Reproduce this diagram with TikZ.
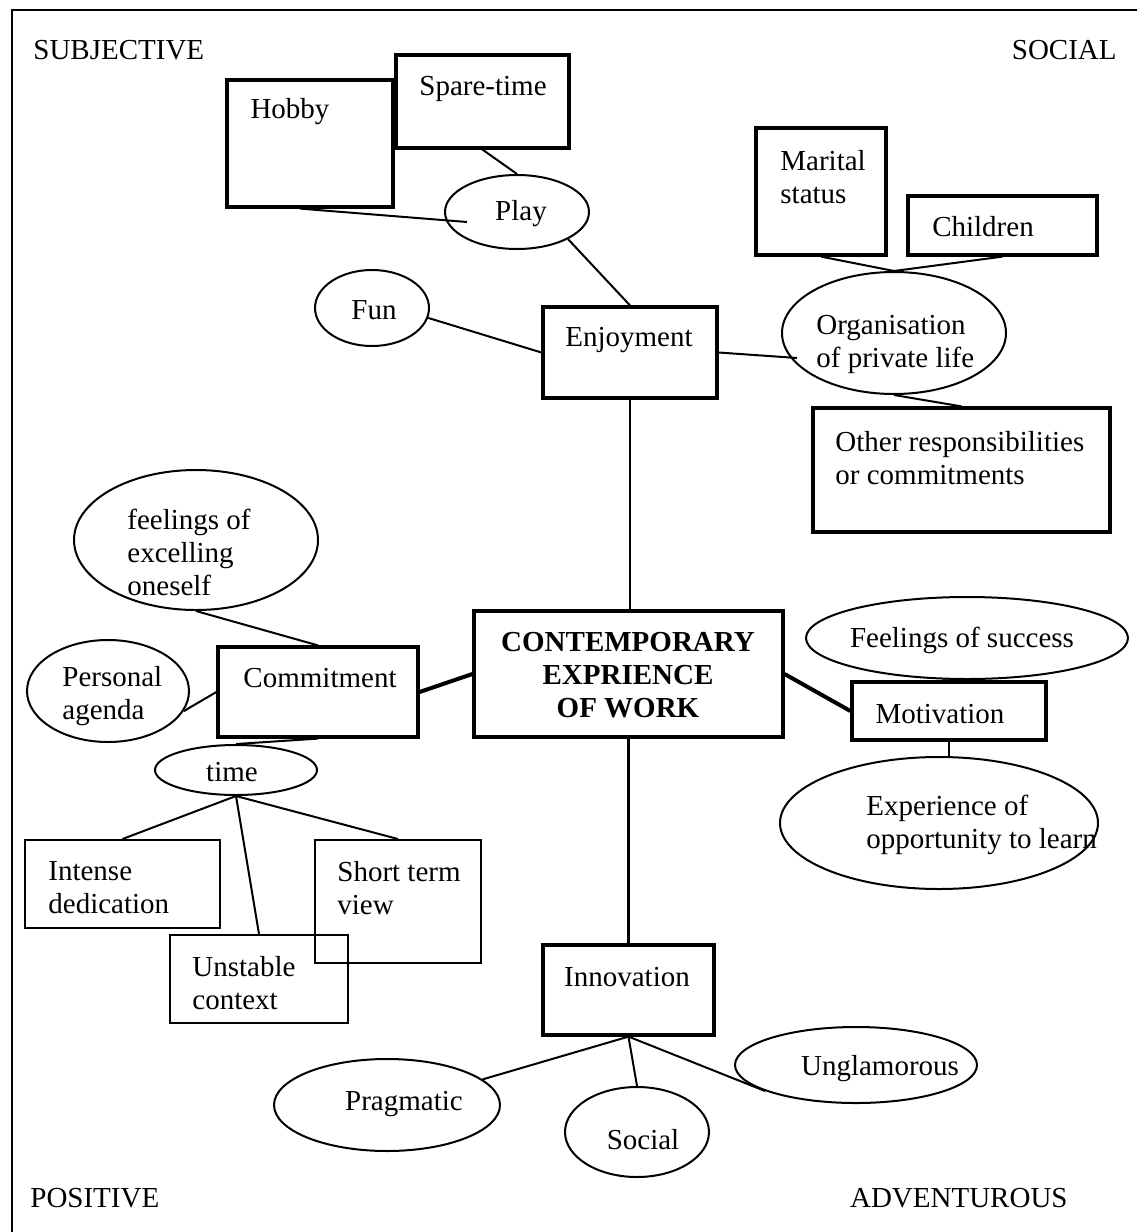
\documentclass[tikz,border=0pt]{standalone}
\usepackage{fontspec}
\setmainfont{Liberation Serif}
\usetikzlibrary{fit,shapes.geometric}

\begin{document}
\begin{tikzpicture}[x=0.5pt,y=-0.5pt,
  every node/.style={font=\fontsize{14.5}{16.5}\selectfont,inner sep=0pt},
  hbox/.style={draw,line width=1.6pt},
  lbox/.style={draw,line width=1pt},
  oval/.style={draw,ellipse,line width=1pt},
  txt/.style={align=left,anchor=west},
  link/.style={line width=1pt},
  heavy/.style={line width=2pt}]
\useasboundingbox (0,0) rectangle (1137,1232);
\draw[line width=1pt] (1137,10) -- (12,10) -- (12,1232);

% corner words
\node[anchor=west] (subj) at (33,50) {SUBJECTIVE};
\node[anchor=east] (soc) at (1117,50) {SOCIAL};
\node[anchor=west] (pos) at (30,1198) {POSITIVE};
\node[anchor=east] (adv) at (1068,1198) {ADVENTUROUS};

% boxes
\node[hbox,fit={(474,611) (783,737)}] (cen) {};
\node[font=\fontsize{14.5}{16.5}\selectfont\bfseries,align=center] (cenT) at (628,675) {CONTEMPORARY\\EXPRIENCE\\OF WORK};
\node[hbox,fit={(543,307) (717,398)}] (enjoy) {};
\node (enjoyT) at (629,340) {Enjoyment};
\node[hbox,fit={(227,80) (393,207)}] (hobby) {};
\node (hobbyT) at (290,112) {Hobby};
\node[hbox,fit={(396,55) (569,148)}] (spare) {};
\node (spareT) at (483,89) {Spare-time};
\node[hbox,fit={(756,128) (886,255)}] (marital) {};
\node[txt] (maritalT) at (780,177) {Marital\\status};
\node[hbox,fit={(908,196) (1097,255)}] (child) {};
\node (childT) at (983,227) {Children};
\node[hbox,fit={(813,408) (1110,532)}] (other) {};
\node[txt] (otherT) at (835,458) {Other responsibilities\\or commitments};
\node[hbox,fit={(218,647) (418,737)}] (commit) {};
\node (commitT) at (320,678) {Commitment};
\node[hbox,fit={(852,682) (1046,740)}] (motiv) {};
\node (motivT) at (940,714) {Motivation};
\node[hbox,fit={(543,945) (714,1035)}] (innov) {};
\node (innovT) at (627,977) {Innovation};
\node[lbox,fit={(25,840) (220,928)}] (intense) {};
\node[txt] (intenseT) at (48,888) {Intense\\dedication};
\node[lbox,fit={(315,840) (481,963)}] (short) {};
\node[txt] (shortT) at (337,888) {Short term\\view};
\node[lbox,fit={(170,935) (348,1023)}] (unstable) {};
\node[txt] (unstableT) at (192,983) {Unstable\\context};

% ellipses
\node[oval,minimum width=72pt,minimum height=37pt] (play) at (517,212) {};
\node (playT) at (521,214) {Play};
\node[oval,minimum width=57pt,minimum height=38pt] (fun) at (372,308) {};
\node (funT) at (374,310) {Fun};
\node[oval,minimum width=112pt,minimum height=61pt] (org) at (894,333) {};
\node[txt] (orgT) at (816,344) {Organisation\\of private life};
\node[oval,minimum width=122pt,minimum height=70pt] (feel) at (196,540) {};
\node[txt] (feelT) at (127,552) {feelings of\\excelling\\oneself};
\node[oval,minimum width=81pt,minimum height=51pt] (pers) at (108,691) {};
\node[txt] (persT) at (62,696) {Personal\\agenda};
\node[oval,minimum width=81pt,minimum height=25pt] (time) at (236,770) {};
\node (timeT) at (232,772) {time};
\node[oval,minimum width=161pt,minimum height=41pt] (succ) at (967,638) {};
\node (succT) at (962,640) {Feelings of success};
\node[oval,minimum width=159pt,minimum height=66pt] (exper) at (939,823) {};
\node[txt] (experT) at (866,825) {Experience of\\opportunity to learn};
\node[oval,minimum width=113pt,minimum height=46pt] (prag) at (387,1105) {};
\node (pragT) at (404,1104) {Pragmatic};
\node[oval,minimum width=72pt,minimum height=45pt] (social) at (637,1132) {};
\node (socialT) at (643,1140) {Social};
\node[oval,minimum width=121pt,minimum height=38pt] (unglam) at (856,1065) {};
\node (unglamT) at (880,1069) {Unglamorous};

% connectors
\draw[line width=1.4pt] (enjoy.south) -- (enjoy.south |- cen.north);
\draw[line width=1.4pt] (cen.south) -- (innov.north);
\draw[heavy] (commit.east) -- (cen.west);
\draw[heavy] (cen.east) -- (motiv.west);
\draw[link] (spare.south) -- (play.north);
\draw[link] ([xshift=-5pt]hobby.south) -- ([shift={(11.5pt,-5pt)}]play.west);
\draw[link] (play.-28) -- (enjoy.north);
\draw[link] (fun.-10) -- (enjoy.west);
\draw[link] (enjoy.east) -- ([shift={(8pt,-12.5pt)}]org.west);
\draw[link] (marital.south) -- (org.north);
\draw[link] (child.south) -- (org.north);
\draw[link] (org.south) -- (other.north);
\draw[link] (feel.south) -- (commit.north);
\draw[link] (pers.-15) -- (commit.west);
\draw[link] (commit.south) -- (time.north);
\draw[link] (time.south) -- (intense.north);
\draw[link] (time.south) -- (unstable.north);
\draw[link] (time.south) -- (short.north);
\draw[link] (succ.south) -- ([xshift=-3pt]motiv.north);
\draw[link] (motiv.south) -- (motiv.south |- exper.north);
\draw[link] (innov.south) -- (prag.15);
\draw[link] (innov.south) -- (social.north);
\draw[link] (innov.south) -- (unglam.196);
\end{tikzpicture}
\end{document}
